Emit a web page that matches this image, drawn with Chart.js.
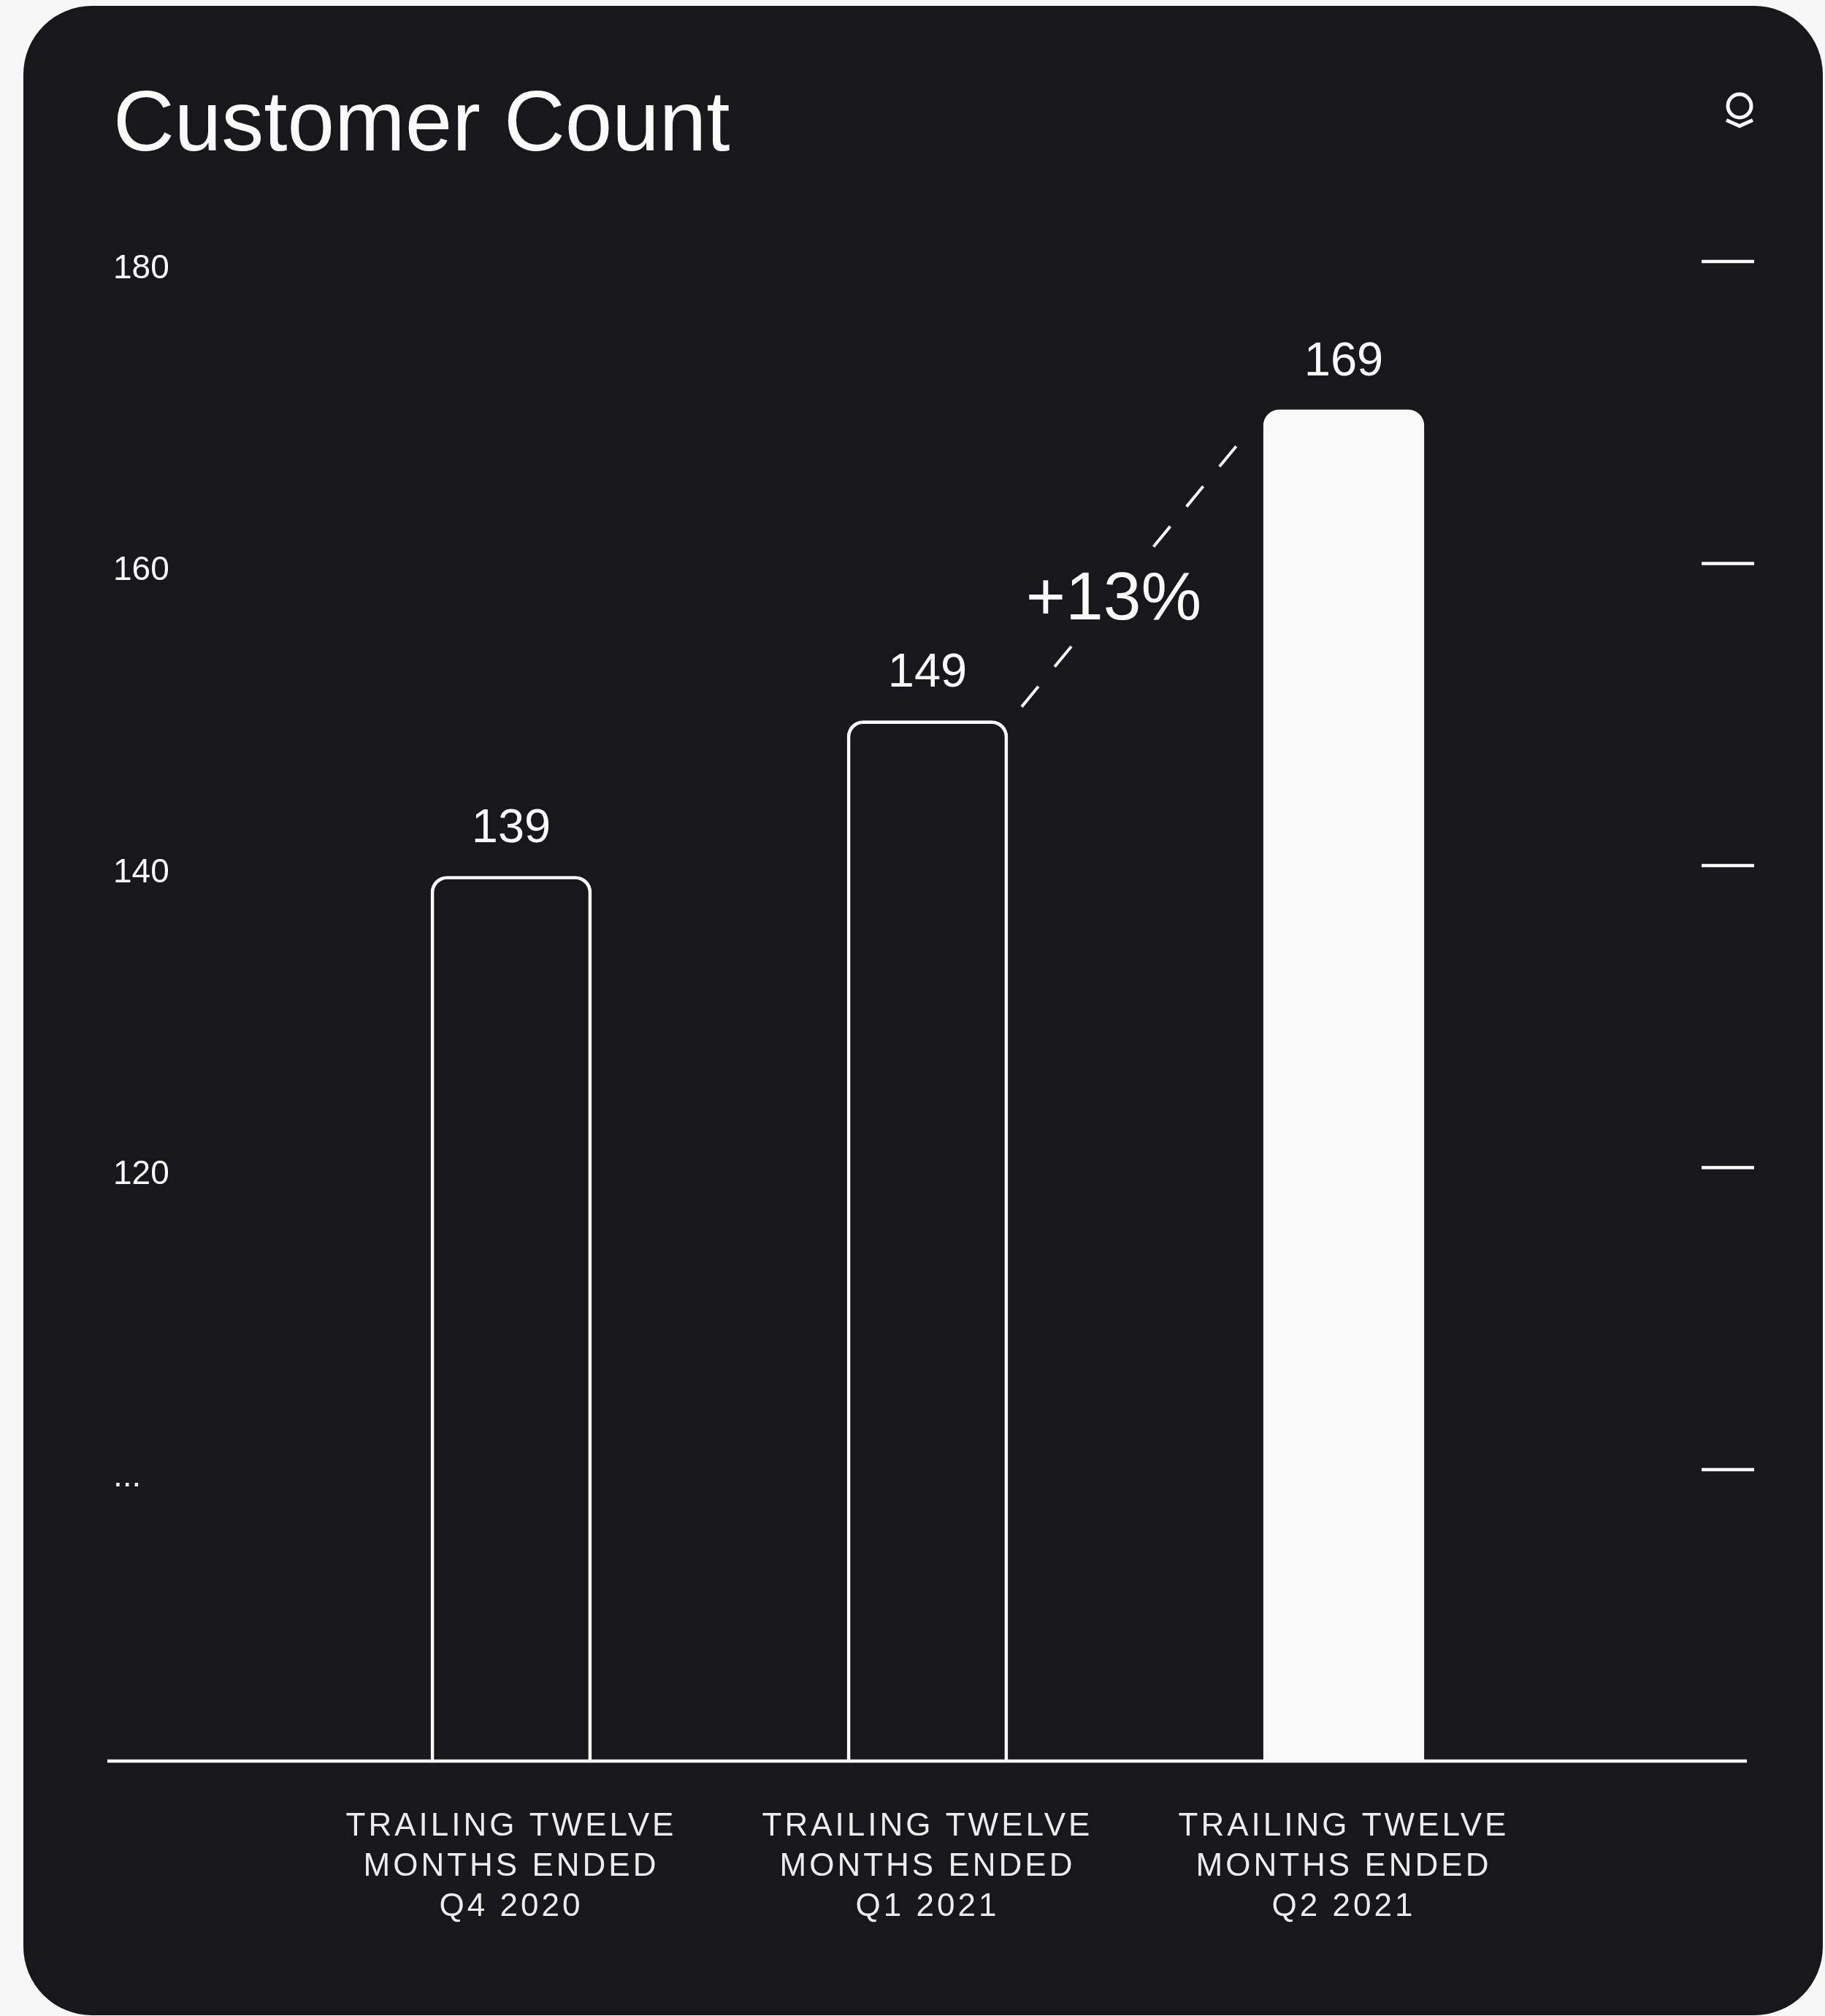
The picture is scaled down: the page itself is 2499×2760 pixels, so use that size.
<!DOCTYPE html>
<html>
<head>
<meta charset="utf-8">
<style>
  html, body { margin: 0; padding: 0; background: #f7f7f7; }
  canvas { display: block; }
</style>
<script src="https://cdn.jsdelivr.net/npm/chart.js@4.4.1/dist/chart.umd.min.js"></script>
</head>
<body>
<canvas id="c" width="2499" height="2760"></canvas>
<script>
// ---- data ----
const chartTitle = 'Customer Count';
const categories = [
  ['TRAILING TWELVE', 'MONTHS ENDED', 'Q4 2020'],
  ['TRAILING TWELVE', 'MONTHS ENDED', 'Q1 2021'],
  ['TRAILING TWELVE', 'MONTHS ENDED', 'Q2 2021']
];
const customerCounts = [139, 149, 169];
const tickValues = [100, 120, 140, 160, 180];
const tickLabels = ['...', '120', '140', '160', '180'];
const growthLabel = '+13%';
const growthFrom = 1;
const growthTo = 2;

// ---- style ----
const CARD = '#18171c';
const PAGE = '#f7f7f7';
const INK = '#fafafa';
const FONT = 'Liberation Sans';

const cardBackground = {
  id: 'cardBackground',
  beforeDraw(chart) {
    const ctx = chart.ctx;
    ctx.save();
    ctx.fillStyle = PAGE;
    ctx.fillRect(0, 0, chart.width, chart.height);
    ctx.fillStyle = CARD;
    ctx.beginPath();
    ctx.roundRect(32, 8, 2464, 2751, 94);
    ctx.fill();
    // logo mark
    ctx.strokeStyle = INK;
    ctx.lineWidth = 5;
    ctx.beginPath();
    ctx.arc(2382, 145, 16, 0, Math.PI * 2);
    ctx.stroke();
    ctx.beginPath();
    ctx.lineJoin = 'miter';
    ctx.moveTo(2364, 164.5);
    ctx.lineTo(2382, 172.5);
    ctx.lineTo(2400, 164.5);
    ctx.stroke();
    ctx.restore();
  }
};

const spacedTicks = {
  id: 'spacedTicks',
  afterLayout(chart) {
    const sc = chart.scales.x;
    if (sc && !sc.__spaced) {
      const orig = sc.drawLabels.bind(sc);
      sc.drawLabels = function (area) {
        const c = this.ctx;
        c.save();
        c.letterSpacing = '4px';
        orig(area);
        c.restore();
      };
      sc.__spaced = true;
    }
  }
};

const decorations = {
  id: 'decorations',
  afterDatasetsDraw(chart) {
    const ctx = chart.ctx;
    const area = chart.chartArea;
    const yT = chart.scales.yT;
    const meta = chart.getDatasetMeta(0);
    ctx.save();
    ctx.strokeStyle = INK;
    ctx.lineCap = 'butt';

    // baseline
    ctx.lineWidth = 4.5;
    ctx.beginPath();
    ctx.moveTo(147, area.bottom);
    ctx.lineTo(2392, area.bottom);
    ctx.stroke();

    // right-hand tick marks
    yT.ticks.forEach(t => {
      const y = yT.getPixelForValue(t.value);
      ctx.beginPath();
      ctx.moveTo(2330, y);
      ctx.lineTo(2402, y);
      ctx.stroke();
    });

    // value labels
    ctx.fillStyle = INK;
    ctx.font = '65px "' + FONT + '"';
    ctx.textAlign = 'center';
    ctx.textBaseline = 'alphabetic';
    meta.data.forEach((bar, i) => {
      ctx.fillText(String(customerCounts[i]), bar.x, bar.y - 47);
    });

    // growth connector
    const a = meta.data[growthFrom];
    const b = meta.data[growthTo];
    const x0 = a.x + a.width / 2 + 19, y0 = a.y - 19;
    const x1 = b.x - b.width / 2 - 33, y1 = b.y + 45;
    ctx.lineWidth = 4;
    ctx.setLineDash([36, 35]);
    ctx.beginPath();
    ctx.moveTo(x0, y0);
    ctx.lineTo(x1, y1);
    ctx.stroke();
    ctx.setLineDash([]);

    ctx.font = '93px "' + FONT + '"';
    const tw = ctx.measureText(growthLabel).width;
    const mx = (x0 + x1) / 2, my = (y0 + y1) / 2;
    const tx = mx - 23, base = my + 61.5;
    ctx.fillStyle = CARD;
    ctx.fillRect(tx - tw / 2 - 10, base - 96, tw + 22, 114);
    ctx.fillStyle = INK;
    ctx.fillText(growthLabel, tx, base);
    ctx.restore();
  }
};

new Chart(document.getElementById('c'), {
  type: 'bar',
  data: {
    labels: categories,
    datasets: [{
      data: customerCounts,
      xAxisID: 'x',
      yAxisID: 'y',
      backgroundColor: ['rgba(0,0,0,0)', 'rgba(0,0,0,0)', '#f9f9f9'],
      borderColor: [INK, INK, '#f9f9f9'],
      borderWidth: 4,
      borderRadius: { topLeft: 22, topRight: 22, bottomLeft: 0, bottomRight: 0 },
      borderSkipped: 'bottom',
      barThickness: 220
    }]
  },
  options: {
    responsive: false,
    animation: false,
    devicePixelRatio: 1,
    layout: { padding: { left: 155, right: 374, top: 0, bottom: 119 } },
    plugins: {
      legend: { display: false },
      tooltip: { enabled: false },
      title: {
        display: true,
        text: chartTitle,
        align: 'start',
        color: INK,
        font: { family: FONT, size: 116, weight: 'normal', lineHeight: 1.2 },
        padding: { top: 104, bottom: 56.8 }
      }
    },
    scales: {
      x: {
        type: 'category',
        offset: true,
        grid: { display: false, drawTicks: false },
        border: { display: false },
        ticks: {
          color: '#ececec',
          font: { family: FONT, size: 44, lineHeight: 1.25 },
          padding: 62,
          maxRotation: 0,
          autoSkip: false
        },
        afterFit: s => { s.height = 230; }
      },
      y: {
        type: 'linear',
        display: false,
        min: 82.1,
        max: 181.25
      },
      yT: {
        type: 'linear',
        position: 'left',
        min: 80.7,
        max: 182.8,
        afterBuildTicks: s => { s.ticks = tickValues.map(v => ({ value: v })); },
        afterFit: s => { s.width = 260; },
        grid: { display: false, drawTicks: false },
        border: { display: false },
        ticks: {
          crossAlign: 'far',
          padding: 0,
          labelOffset: 10,
          color: INK,
          font: { family: FONT, size: 46 },
          callback: v => {
            const i = tickValues.indexOf(v);
            return i >= 0 ? tickLabels[i] : '';
          }
        }
      }
    }
  },
  plugins: [cardBackground, spacedTicks, decorations]
});
</script>
</body>
</html>
